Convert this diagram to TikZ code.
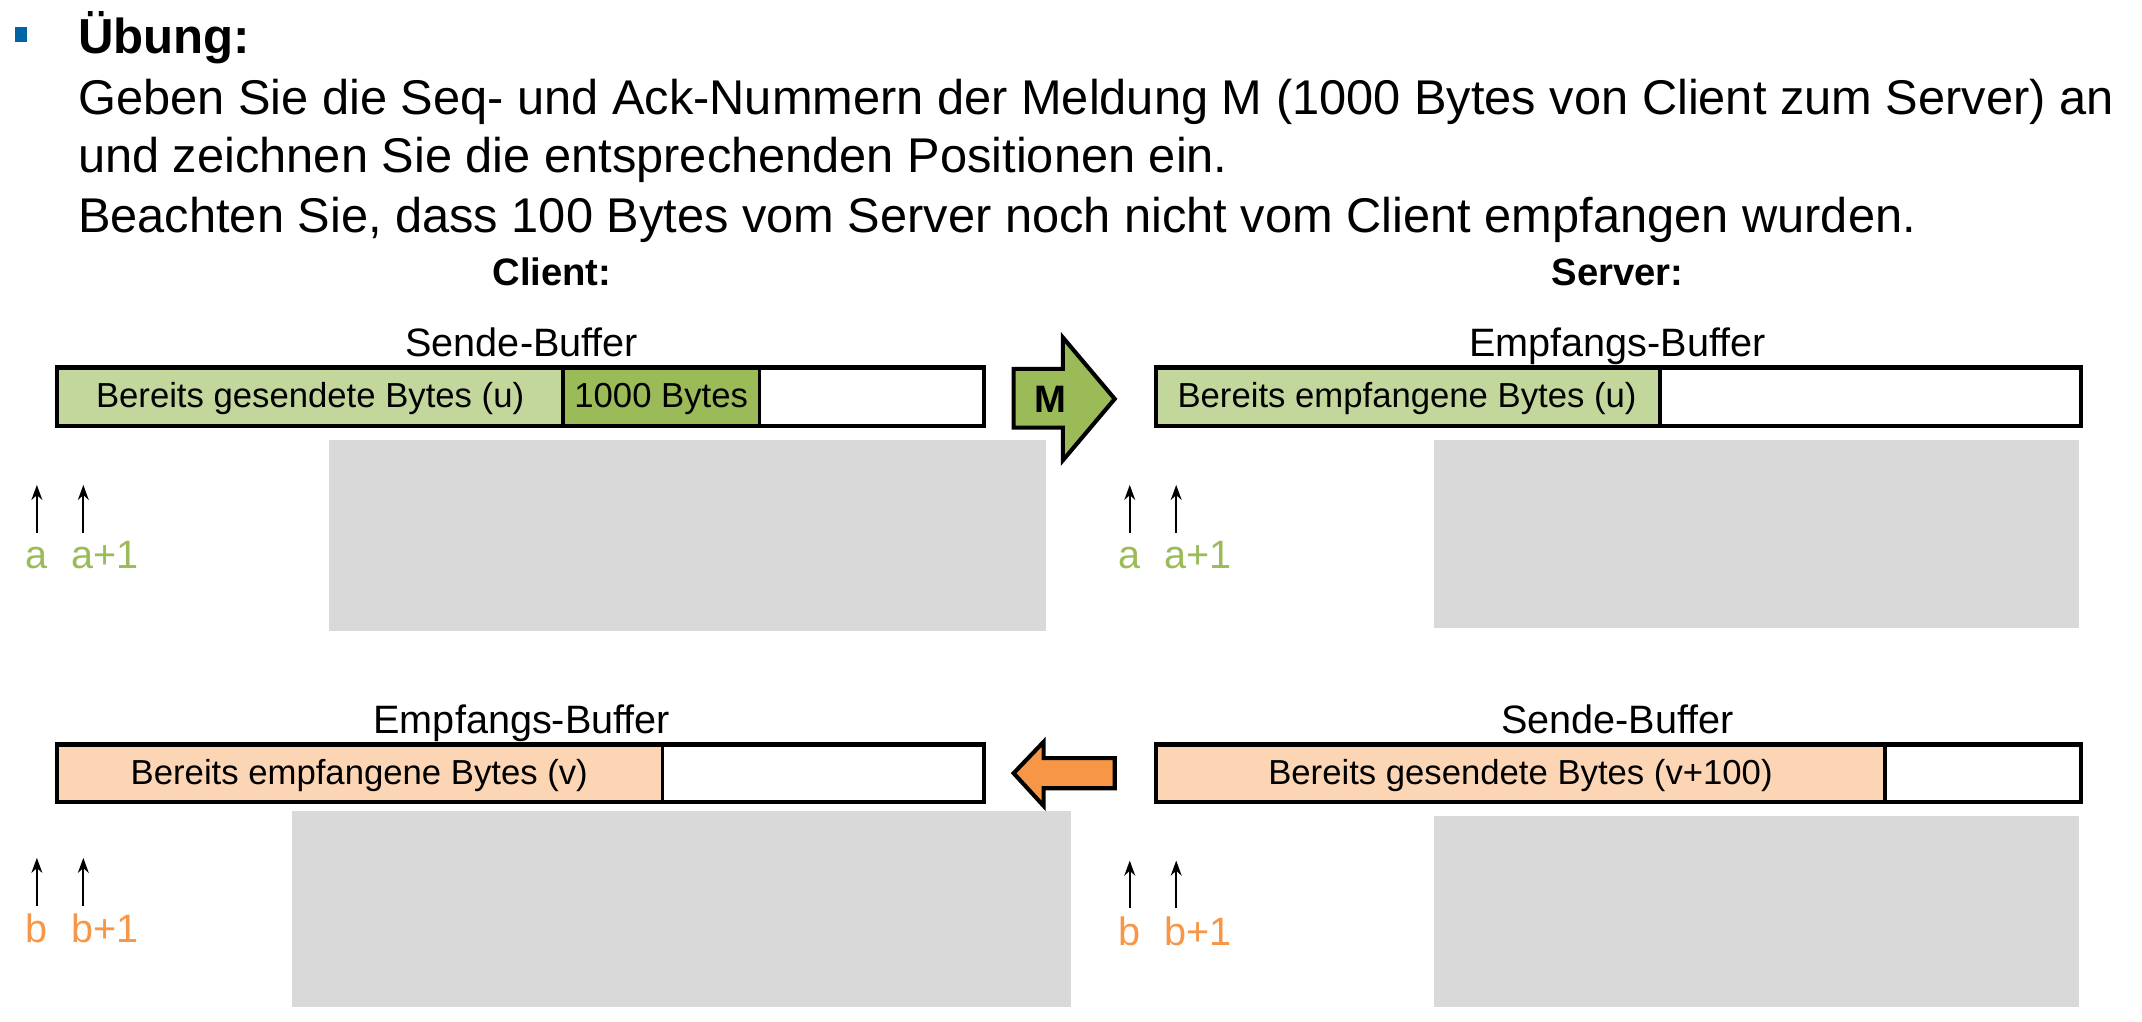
\documentclass[tikz,border=0pt]{standalone}
\usepackage{fontspec}
\setmainfont{Liberation Sans}
\usetikzlibrary{arrows.meta}
\definecolor{lgreen}{HTML}{C3D69B}
\definecolor{dgreen}{HTML}{9BBB59}
\definecolor{peach}{HTML}{FCD5B5}
\definecolor{orng}{HTML}{F79646}
\definecolor{greybox}{HTML}{D9D9D9}
\definecolor{bulletblue}{HTML}{0063A6}
\begin{document}
\begin{tikzpicture}[x=1pt,y=-1pt,
  bartxt/.style={font=\fontsize{25.4}{30}\selectfont, inner sep=0pt},
  captxt/.style={font=\fontsize{29}{34}\selectfont, inner sep=0pt, anchor=base},
  headtxt/.style={font=\bfseries\fontsize{28}{32}\selectfont, inner sep=0pt, anchor=base},
  bodytxt/.style={font=\fontsize{35.7}{40}\selectfont, inner sep=0pt, anchor=base west},
  seg/.style={line width=2.5pt},
  barframe/.style={draw, line width=3pt},
  grey/.style={fill=greybox},
  uparrow/.style={line width=1.3pt, -{Stealth[length=11pt,width=8pt]}},
  albl/.style={font=\fontsize{29}{34}\selectfont, inner sep=0pt, anchor=base, text=dgreen},
  blbl/.style={font=\fontsize{29}{34}\selectfont, inner sep=0pt, anchor=base, text=orng},
  blockarrow/.style={draw, line width=3pt, line join=miter}
]
\useasboundingbox (0,0) rectangle (1568,747.4);
% title
\fill[bulletblue] (11,20) rectangle (20,31);
\node[bodytxt, font=\bfseries\fontsize{36}{40}\selectfont] (title) at (57,39) {Übung:};
\node[bodytxt] (l1) at (57,84) {Geben Sie die Seq- und Ack-Nummern der Meldung M (1000 Bytes von Client zum Server) an};
\node[bodytxt] (l2) at (57,126) {und zeichnen Sie die entsprechenden Positionen ein.};
\node[bodytxt] (l3) at (57,170) {Beachten Sie, dass 100 Bytes vom Server noch nicht vom Client empfangen wurden.};
\node[headtxt] (client) at (404,209) {Client:};
\node[headtxt] (server) at (1184,209) {Server:};

% grey boxes (behind)
\fill[grey] (241,322) rectangle (766,462);
\fill[grey] (1050,322) rectangle (1522,460);
\fill[grey] (214,594) rectangle (784,737);
\fill[grey] (1050,597) rectangle (1522,737);

% ---- Client send buffer
\node[captxt] (csb) at (382,261) {Sende-Buffer};
\fill[lgreen] (42,269) rectangle (412,312);
\fill[dgreen] (412,269) rectangle (556,312);
\draw[seg] (412,269) -- (412,312);
\draw[seg] (556,269) -- (556,312);
\draw[barframe] (42,269) rectangle (720,312);
\node[bartxt] (csb1) at (227,292) {Bereits gesendete Bytes (u)};
\node[bartxt] (csb2) at (484,292) {1000 Bytes};

% M arrow
\draw[blockarrow, fill=dgreen] (742,270) -- (778,270) -- (778,247) -- (816,292) -- (778,337) -- (778,313) -- (742,313) -- cycle;
\node[font=\bfseries\fontsize{28}{30}\selectfont, inner sep=0pt] (M) at (769,292) {M};

% ---- Server receive buffer
\node[captxt] (sempf) at (1184,261) {Empfangs-Buffer};
\fill[lgreen] (846,269) rectangle (1215,312);
\draw[seg] (1215,269) -- (1215,312);
\draw[barframe] (846,269) rectangle (1523,312);
\node[bartxt] (srb1) at (1030,292) {Bereits empfangene Bytes (u)};

% ---- Client receive buffer
\node[captxt] (cempf) at (382,537) {Empfangs-Buffer};
\fill[peach] (42,545) rectangle (485,587);
\draw[seg] (485,545) -- (485,587);
\draw[barframe] (42,545) rectangle (720,587);
\node[bartxt] (crb1) at (263,568) {Bereits empfangene Bytes (v)};

% orange arrow
\draw[blockarrow, fill=orng] (742,566) -- (764,543) -- (764,555) -- (816,555) -- (816,577) -- (764,577) -- (764,590) -- cycle;

% ---- Server send buffer
\node[captxt] (ssb) at (1184,537) {Sende-Buffer};
\fill[peach] (846,545) rectangle (1380,587);
\draw[seg] (1380,545) -- (1380,587);
\draw[barframe] (846,545) rectangle (1523,587);
\node[bartxt] (ssb1) at (1113,568) {Bereits gesendete Bytes (v+100)};

% pointer arrows & labels
\coordinate (p1s) at (27,390); \coordinate (p1e) at (27,355);
\coordinate (p2s) at (61,390); \coordinate (p2e) at (61,355);
\draw[uparrow] (p1s) -- (p1e);
\draw[uparrow] (p2s) -- (p2e);
\node[albl] (a1) at (27,416) {a};
\node[albl] (a2) at (77,416) {a+1};

\coordinate (p3s) at (827,390); \coordinate (p3e) at (827,355);
\coordinate (p4s) at (861,390); \coordinate (p4e) at (861,355);
\draw[uparrow] (p3s) -- (p3e);
\draw[uparrow] (p4s) -- (p4e);
\node[albl] (a3) at (827,416) {a};
\node[albl] (a4) at (877,416) {a+1};

\coordinate (p5s) at (27,663); \coordinate (p5e) at (27,628);
\coordinate (p6s) at (61,663); \coordinate (p6e) at (61,628);
\draw[uparrow] (p5s) -- (p5e);
\draw[uparrow] (p6s) -- (p6e);
\node[blbl] (b1) at (27,690) {b};
\node[blbl] (b2) at (77,690) {b+1};

\coordinate (p7s) at (827,665); \coordinate (p7e) at (827,630);
\coordinate (p8s) at (861,665); \coordinate (p8e) at (861,630);
\draw[uparrow] (p7s) -- (p7e);
\draw[uparrow] (p8s) -- (p8e);
\node[blbl] (b3) at (827,692) {b};
\node[blbl] (b4) at (877,692) {b+1};
\end{tikzpicture}
\end{document}
